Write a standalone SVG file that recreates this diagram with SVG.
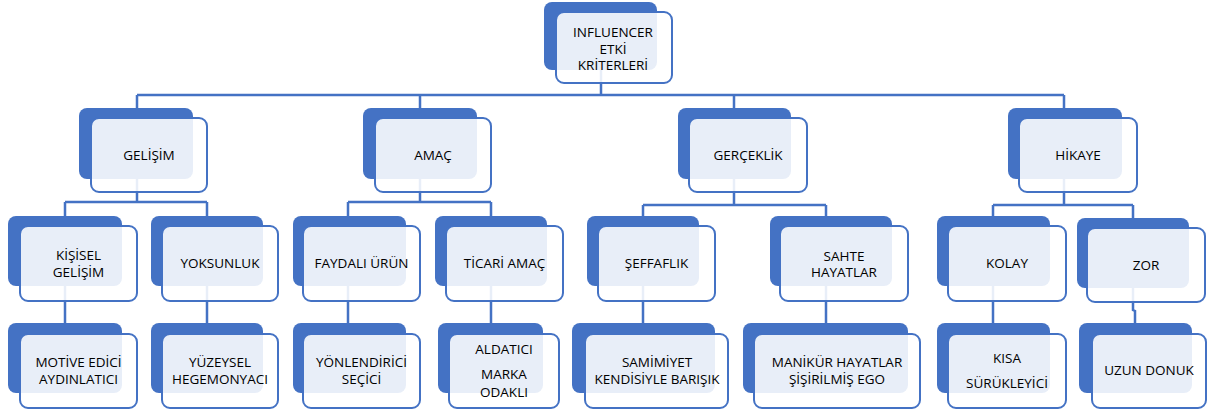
<svg xmlns="http://www.w3.org/2000/svg" width="1208" height="414" viewBox="0 0 1208 414">
<style>
.bk{fill:#4472C4}
.fr{fill:#ffffff;fill-opacity:0.88;stroke:#4472C4;stroke-width:2}
.cn{fill:none;stroke:#4472C4;stroke-width:2.5}
text{font-family:"Open Sans","Noto Sans",sans-serif;font-size:13.5px;font-weight:500;fill:#000;text-anchor:middle}
</style>
<rect width="1208" height="414" fill="#ffffff"/>
<g id="connectors">
<path class="cn" d="M601 70V95M137 95H1064M137 95V108M420 95V108M734 95V108M1064 95V108"/>
<path class="cn" d="M137 179V202M65 202H207M65 202V216M207 202V216"/>
<path class="cn" d="M420 179V202M348 202H491M348 202V216M491 202V216"/>
<path class="cn" d="M734 179V205M643 205H826M643 205V216M826 205V216"/>
<path class="cn" d="M1064 179V205M993 205H1133M993 205V216M1133 205V218"/>
<path class="cn" d="M65 286V323M207 286V323M348 286V323M491 286V323M643 286V323M826 286V323M993 286V323M1133 288V310L1135 311V323"/>
</g>
<g id="n0"><rect class="bk" x="544" y="2" width="113" height="68" rx="8"/><rect class="fr" x="556" y="12" width="116" height="71" rx="8"/><text x="613" y="37">INFLUENCER</text><text x="613" y="53.5">ETKİ</text><text x="613" y="70">KRİTERLERİ</text></g>
<g id="n1"><rect class="bk" x="79" y="108" width="114" height="71" rx="8"/><rect class="fr" x="91" y="118" width="116" height="74" rx="8"/><text x="149" y="160">GELİŞİM</text></g>
<g id="n2"><rect class="bk" x="363" y="108" width="114" height="71" rx="8"/><rect class="fr" x="375" y="118" width="116" height="74" rx="8"/><text x="433" y="160">AMAÇ</text></g>
<g id="n3"><rect class="bk" x="678" y="108" width="113" height="71" rx="8"/><rect class="fr" x="689" y="118" width="118" height="74" rx="8"/><text x="748" y="160">GERÇEKLİK</text></g>
<g id="n4"><rect class="bk" x="1008" y="108" width="114" height="71" rx="8"/><rect class="fr" x="1019" y="118" width="118" height="74" rx="8"/><text x="1078" y="160">HİKAYE</text></g>
<g id="n5"><rect class="bk" x="8" y="216" width="114" height="70" rx="8"/><rect class="fr" x="20" y="226" width="117" height="75" rx="8"/><text x="78.5" y="260">KİŞİSEL</text><text x="78.5" y="277">GELİŞİM</text></g>
<g id="n6"><rect class="bk" x="151" y="216" width="112" height="70" rx="8"/><rect class="fr" x="162" y="226" width="116" height="75" rx="8"/><text x="220" y="268">YOKSUNLUK</text></g>
<g id="n7"><rect class="bk" x="293" y="216" width="113" height="70" rx="8"/><rect class="fr" x="303" y="226" width="117" height="75" rx="8"/><text x="361.5" y="268">FAYDALI ÜRÜN</text></g>
<g id="n8"><rect class="bk" x="435" y="216" width="112" height="70" rx="8"/><rect class="fr" x="446" y="226" width="117" height="75" rx="8"/><text x="504.5" y="268">TİCARİ AMAÇ</text></g>
<g id="n9"><rect class="bk" x="587" y="216" width="112" height="70" rx="8"/><rect class="fr" x="598" y="226" width="117" height="75" rx="8"/><text x="656.5" y="268">ŞEFFAFLIK</text></g>
<g id="n10"><rect class="bk" x="770" y="216" width="122" height="70" rx="8"/><rect class="fr" x="780" y="226" width="128" height="75" rx="8"/><text x="844" y="261">SAHTE</text><text x="844" y="277">HAYATLAR</text></g>
<g id="n11"><rect class="bk" x="937" y="216" width="113" height="70" rx="8"/><rect class="fr" x="948" y="226" width="118" height="75" rx="8"/><text x="1007" y="268">KOLAY</text></g>
<g id="n12"><rect class="bk" x="1077" y="218" width="112" height="70" rx="8"/><rect class="fr" x="1087" y="228" width="118" height="74" rx="8"/><text x="1146" y="270">ZOR</text></g>
<g id="n13"><rect class="bk" x="8" y="323" width="114" height="70" rx="8"/><rect class="fr" x="20" y="334" width="117" height="74" rx="8"/><text x="78.5" y="367">MOTİVE EDİCİ</text><text x="78.5" y="384">AYDINLATICI</text></g>
<g id="n14"><rect class="bk" x="151" y="323" width="112" height="70" rx="8"/><rect class="fr" x="162" y="334" width="116" height="74" rx="8"/><text x="220" y="367">YÜZEYSEL</text><text x="220" y="384">HEGEMONYACI</text></g>
<g id="n15"><rect class="bk" x="293" y="323" width="113" height="70" rx="8"/><rect class="fr" x="303" y="334" width="117" height="74" rx="8"/><text x="361.5" y="367">YÖNLENDİRİCİ</text><text x="361.5" y="384">SEÇİCİ</text></g>
<g id="n16"><rect class="bk" x="438" y="323" width="105" height="70" rx="8"/><rect class="fr" x="449" y="334" width="110" height="74" rx="8"/><text x="504" y="354">ALDATICI</text><text x="504" y="379">MARKA</text><text x="504" y="396.5">ODAKLI</text></g>
<g id="n17"><rect class="bk" x="572" y="323" width="143" height="70" rx="8"/><rect class="fr" x="585" y="334" width="143" height="74" rx="8"/><text x="657" y="367">SAMİMİYET</text><text x="657" y="384">KENDİSİYLE BARIŞIK</text></g>
<g id="n18"><rect class="bk" x="743" y="323" width="165" height="70" rx="8"/><rect class="fr" x="754" y="334" width="166" height="74" rx="8"/><text x="837" y="367">MANİKÜR HAYATLAR</text><text x="837" y="384">ŞİŞİRİLMİŞ EGO</text></g>
<g id="n19"><rect class="bk" x="937" y="323" width="113" height="70" rx="8"/><rect class="fr" x="948" y="334" width="118" height="74" rx="8"/><text x="1007" y="363">KISA</text><text x="1007" y="388">SÜRÜKLEYİCİ</text></g>
<g id="n20"><rect class="bk" x="1079" y="323" width="113" height="70" rx="8"/><rect class="fr" x="1092" y="334" width="114" height="74" rx="8"/><text x="1149" y="375">UZUN DONUK</text></g>
</svg>
